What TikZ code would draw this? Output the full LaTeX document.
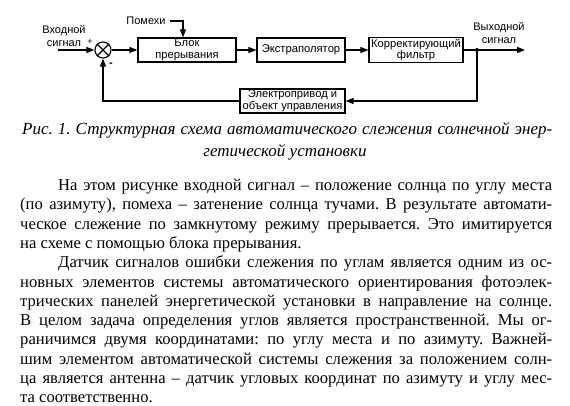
\documentclass[tikz,border=0pt]{standalone}
\usepackage{fontspec}
\setmainfont{Liberation Serif}
\newfontfamily\schemefont{Liberation Sans}
\usetikzlibrary{arrows.meta,positioning}
\frenchspacing
\tikzset{
  blockbox/.style={draw,line width=1.1pt,minimum height=24pt,align=center,inner sep=1pt,
    font=\schemefont\fontsize{11.2}{11.5}\selectfont},
  sumnode/.style={draw,circle,line width=1.1pt,minimum size=16pt,inner sep=0pt},
  signalarrow/.style={-{Triangle[length=8pt,width=6pt]},line width=1.1pt},
  signalline/.style={line width=1.1pt},
  schemelabel/.style={font=\schemefont\fontsize{11}{13.5}\selectfont,align=center,inner sep=0pt},
  bodyline/.style={anchor=base west,inner sep=0pt,font=\fontsize{16.6}{19}\selectfont},
  captionline/.style={inner sep=0pt,font=\itshape\fontsize{17}{20}\selectfont}
}
\newcommand\fullline[2]{\makebox[#1][s]{#2}}

\begin{document}
\begin{tikzpicture}[x=1pt,y=-1pt]
  \useasboundingbox (0,0) rectangle (570,406);
  \fill[white] (0,0) rectangle (570,406);
  % structure of the tracking loop
  \node[sumnode] (sum) at (103,50) {};
  \draw[signalline] (sum.north west) -- (sum.south east) (sum.north east) -- (sum.south west);
  \node[blockbox,minimum width=98pt] (brk) at (187,50) {Блок\\прерывания};
  \node[blockbox,minimum width=88pt] (extr) at (301,50) {Экстраполятор};
  \node[blockbox,minimum width=94pt] (corr) at (416,50) {Корректирующий\\фильтр};
  \node[blockbox,minimum width=105pt] (drive) at (292.5,101) {Электропривод и\\объект управления};
  \coordinate (in) at (58,50);
  \coordinate (tap) at (477,50);
  \coordinate (out) at (525,50);
  \fill (tap) circle (2pt);
  \node[schemelabel] (inlabel) at (64,36) {Входной\\сигнал};
  \node[schemelabel] (outlabel) at (499,33) {Выходной\\сигнал};
  \node[schemelabel] (noise) at (146,21) {Помехи};
  \node[schemelabel,font=\schemefont\fontsize{9}{9}\selectfont] (plus) at (90,42) {+};
  \node[schemelabel,font=\schemefont\bfseries\fontsize{11}{11}\selectfont] (minus) at (111,65) {-};
  \draw[signalarrow] (in) -- (sum);
  \draw[signalarrow] (sum) -- (brk);
  \draw[signalarrow] ([xshift=4pt]noise.east) -| ([xshift=-4pt]brk.north);
  \draw[signalarrow] (brk) -- (extr);
  \draw[signalarrow] (extr) -- (corr);
  \draw[signalline] (corr) -- (tap);
  \draw[signalarrow] (tap) -- (out);
  \draw[signalarrow] (tap) |- (drive);
  \draw[signalarrow] (drive) -| (sum);
  % caption
  \node[captionline,anchor=base west] (cap1) at (22,135)
    {\fullline{530pt}{Рис. 1. Структурная схема автоматического слежения солнечной энер-}};
  \node[captionline,anchor=base] (cap2) at (285,157) {гетической установки};
  % text below the figure
  \node[bodyline] (body1) at (58,190.5)
    {\fullline{494pt}{На этом рисунке входной сигнал – положение солнца по углу места}};
  \node[bodyline] (body2) at (20,209.8)
    {\fullline{532pt}{(по азимуту), помеха – затенение солнца тучами. В результате автомати-}};
  \node[bodyline] (body3) at (20,229.1)
    {\fullline{532pt}{ческое слежение по замкнутому режиму прерывается. Это имитируется}};
  \node[bodyline] (body4) at (20,248.4) {на схеме с помощью блока прерывания.};
  \node[bodyline] (body5) at (58,267.7)
    {\fullline{494pt}{Датчик сигналов ошибки слежения по углам является одним из ос-}};
  \node[bodyline] (body6) at (20,287.0)
    {\fullline{532pt}{новных элементов системы автоматического ориентирования фотоэлек-}};
  \node[bodyline] (body7) at (20,306.3)
    {\fullline{532pt}{трических панелей энергетической установки в направление на солнце.}};
  \node[bodyline] (body8) at (20,325.6)
    {\fullline{532pt}{В целом задача определения углов является пространственной. Мы ог-}};
  \node[bodyline] (body9) at (20,344.9)
    {\fullline{532pt}{раничимся двумя координатами: по углу места и по азимуту. Важней-}};
  \node[bodyline] (body10) at (20,364.2)
    {\fullline{532pt}{шим элементом автоматической системы слежения за положением солн-}};
  \node[bodyline] (body11) at (20,383.5)
    {\fullline{532pt}{ца является антенна – датчик угловых координат по азимуту и углу мес-}};
  \node[bodyline] (body12) at (20,402.8) {та соответственно.};
\end{tikzpicture}
\end{document}
